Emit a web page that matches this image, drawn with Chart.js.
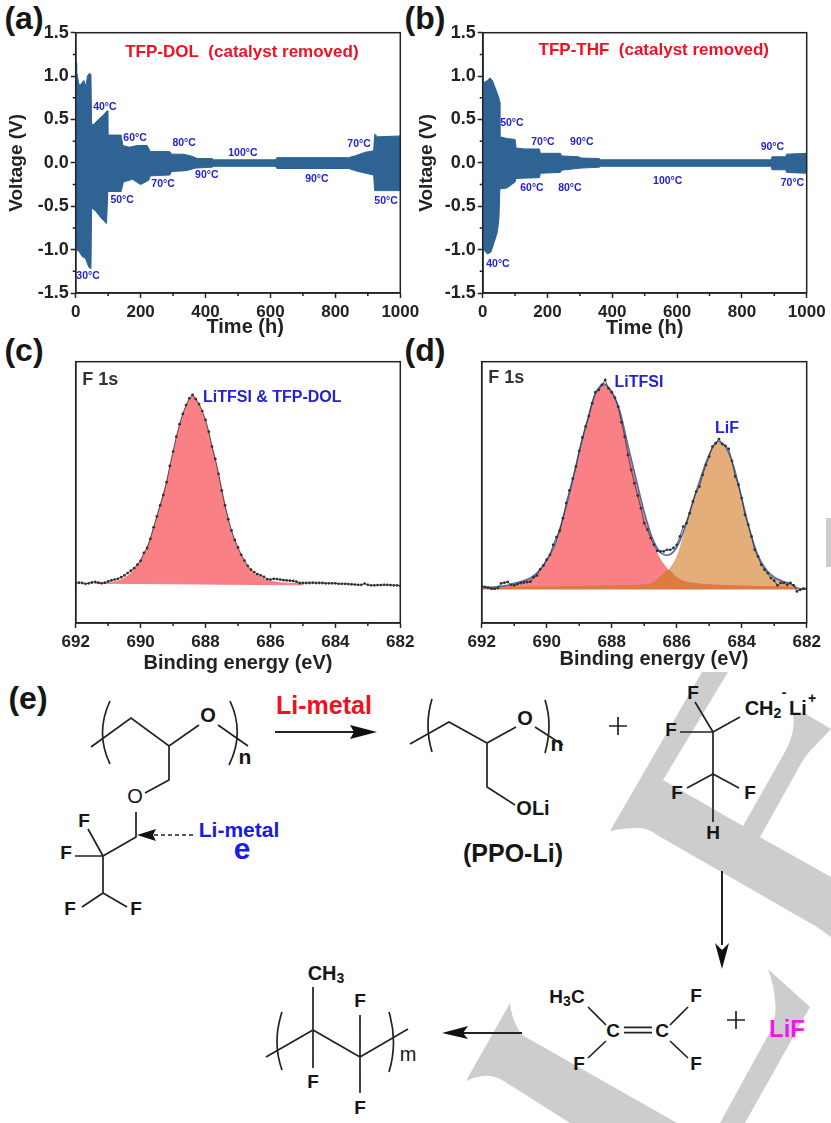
<!DOCTYPE html>
<html>
<head>
<meta charset="utf-8">
<title>Voltage profiles and F 1s spectra</title>
<script src="https://cdn.jsdelivr.net/npm/chart.js@4"></script>
<style>
    html, body { margin: 0; padding: 0; background: #fff; }
    #page { position: relative; width: 831px; height: 1123px; overflow: hidden; }
    #page svg, #page canvas { position: absolute; }
    #scheme text { font-family: "Liberation Sans", Arial, sans-serif; font-weight: bold; fill: #161616; text-anchor: middle; dominant-baseline: central; }
    #scheme .bond { fill: none; stroke: #222; stroke-width: 1.7; }
    #scheme .head { fill: #111; stroke: none; }
    #scheme .mark { fill: #cdcdcd; stroke: none; }
</style>
</head>
<body>
<div id="page">
<svg id="scheme" width="831" height="1123" viewBox="0 0 831 1123">
    <!-- grey watermark behind the scheme -->
    <path class="mark" d="M702 672 L728 672 L663 780 L743 826 L786 750 Q796 730 793 715 Q800 712 806 714 L831 729 L814 747 Q808 752 802 762 L760 837 L831 877 L831 937 L817 927 L657 835 Q648 828 640 828 Q622 828 610 831 Z"/>
    <path class="mark" d="M510 1003 Q512 1022 522 1035 L677 1123 L570 1123 L502 1080 Q492 1075 483 1076 Q474 1077 466 1081 Z"/>
    <path class="mark" d="M768 969 L810 1007 L745 1123 L720 1123 L771 1030 Q777 1015 775 1000 Q774 985 768 969 Z"/>
    <rect class="mark" x="826" y="518" width="5" height="49"/>

    <text x="24" y="18" font-size="32">(a)</text>
    <text x="425" y="18" font-size="32">(b)</text>
    <text x="24" y="350" font-size="32">(c)</text>
    <text x="425" y="350" font-size="32">(d)</text>
    <text x="28" y="698" font-size="32">(e)</text>

    <!-- fluorinated polyether -->
    <path class="bond" d="M91 747 L131 718 L169 746 L199 725 M218 725 L248 746 M110 701 Q95 733 110 764 M230 701 Q245 733 229 765
        M169 746 L169 780 L145 793 M136 812 L136 837 L103 856 L88 829 M103 856 L75 856 M103 856 L103 893 L82 907 M103 893 L127 907"/>
    <text x="208" y="715" font-size="20">O</text>
    <text x="245" y="756" font-size="21">n</text>
    <text x="135" y="796" font-size="20" style="font-weight:normal">O</text>
    <text x="84" y="820" font-size="19">F</text>
    <text x="66" y="852" font-size="19">F</text>
    <text x="70" y="908" font-size="19">F</text>
    <text x="136" y="908" font-size="19">F</text>
    <path class="bond" stroke-dasharray="4 3" d="M193 835 L150 835"/>
    <path class="head" d="M137 835 L156 829 L153 835 L156 841 Z"/>
    <text x="239" y="829" font-size="21" style="fill:#1a1ae0">Li-metal</text>
    <text x="242" y="848" font-size="30" style="fill:#1a1ae0">e</text>

    <text x="324" y="705" font-size="25" style="fill:#f01020">Li-metal</text>
    <path class="bond" style="stroke-width:2" d="M275 732 L360 732"/>
    <path class="head" d="M377 732 L350 725 L354 732 L350 739 Z"/>

    <!-- PPO-Li -->
    <path class="bond" d="M410 744 L449 722 L487 743 L516 727 M535 727 L563 745 M432 699 Q424 725 432 752 M545 700 Q553 725 545 753 M487 743 L487 787 L515 805"/>
    <text x="525" y="718" font-size="20">O</text>
    <text x="557" y="743" font-size="21">n</text>
    <text x="533" y="808" font-size="20">OLi</text>
    <text x="513" y="853" font-size="25">(PPO-Li)</text>
    <path class="bond" d="M609 726 L627 726 M618 717 L618 735"/>

    <!-- fluorinated carbanion -->
    <path class="bond" d="M695 702 L713 732 M680 732 L713 732 M713 732 L740 717 M713 732 L713 822 M713 774 L687 788 M713 774 L739 788"/>
    <text x="693" y="692" font-size="19">F</text>
    <text x="671" y="729" font-size="19">F</text>
    <text x="677" y="792" font-size="19">F</text>
    <text x="750" y="792" font-size="19">F</text>
    <text x="713" y="832" font-size="19">H</text>
    <text x="763" y="708" font-size="20">CH<tspan dy="5" font-size="14">2</tspan></text>
    <text x="784" y="692" font-size="14">-</text>
    <text x="798" y="708" font-size="20">Li</text>
    <text x="812" y="698" font-size="14">+</text>

    <path class="bond" style="stroke-width:2" d="M722 871 L722 945"/>
    <path class="head" d="M722 969 L715 943 L722 950 L729 943 Z"/>

    <!-- trifluoropropene + LiF -->
    <path class="bond" d="M588 1007 L606 1025 M588 1058 L606 1041 M670 1025 L688 1007 M670 1041 L688 1058 M624 1027.3 L652 1027.3 M624 1032.7 L652 1032.7"/>
    <text x="567" y="996" font-size="19">H<tspan dy="5" font-size="14">3</tspan><tspan dy="-5">C</tspan></text>
    <text x="613" y="1030" font-size="19">C</text>
    <text x="662" y="1030" font-size="19">C</text>
    <text x="579" y="1063" font-size="19">F</text>
    <text x="696" y="995" font-size="19">F</text>
    <text x="696" y="1063" font-size="19">F</text>
    <path class="bond" d="M727 1020 L745 1020 M736 1011 L736 1029"/>
    <text x="787" y="1028" font-size="24" style="fill:#f018e8">LiF</text>
    <path class="bond" style="stroke-width:2" d="M522 1033 L462 1033"/>
    <path class="head" d="M442 1033 L468 1026 L463 1033 L468 1039 Z"/>

    <!-- resulting polymer -->
    <path class="bond" d="M266 1057 L313 1030 L360 1057 L408 1029 M313 987 L313 1068 M360 1015 L360 1093 M282 1012 Q272 1042 282 1070 M389 1012 Q398 1042 389 1072"/>
    <text x="326" y="973" font-size="20">CH<tspan dy="5" font-size="14">3</tspan></text>
    <text x="313" y="1081" font-size="19">F</text>
    <text x="360" y="1000" font-size="19">F</text>
    <text x="360" y="1107" font-size="19">F</text>
    <text x="408" y="1054" font-size="20" style="font-weight:normal">m</text>
</svg>
<canvas id="chartA" style="left:0;top:0" width="430" height="340"></canvas>
<canvas id="chartB" style="left:415px;top:0" width="416" height="340"></canvas>
<canvas id="chartC" style="left:0;top:335px" width="430" height="340"></canvas>
<canvas id="chartD" style="left:415px;top:335px" width="416" height="340"></canvas>
</div>
<script>
// ============================================
// Data
// ============================================
// (a) TFP-DOL voltage envelope
const timeUpperA = [0, 1, 3, 10, 15, 25, 32, 36, 42, 47, 49, 55, 70, 85, 97, 99, 140, 145, 165, 190, 220, 230, 290, 295, 330, 355, 375, 420, 425, 615, 620, 840, 860, 890, 918, 921, 930, 1000];
const voltUpperA = [1.32, 1.15, 1.05, 0.9, 0.9, 0.95, 0.88, 1.0, 1.03, 1.02, 0.45, 0.44, 0.5, 0.55, 0.6, 0.32, 0.32, 0.2, 0.18, 0.2, 0.2, 0.13, 0.13, 0.1, 0.1, 0.08, 0.05, 0.05, 0.035, 0.035, 0.06, 0.06, 0.08, 0.12, 0.14, 0.33, 0.3, 0.31];
const timeLowerA = [0, 10, 20, 30, 40, 47, 49, 60, 75, 95, 99, 140, 147, 175, 200, 225, 230, 290, 295, 340, 370, 420, 425, 615, 620, 840, 870, 918, 921, 1000];
const voltLowerA = [-1.0, -1.02, -1.08, -1.1, -1.2, -1.22, -0.52, -0.55, -0.62, -0.7, -0.33, -0.33, -0.22, -0.19, -0.25, -0.2, -0.15, -0.14, -0.1, -0.09, -0.06, -0.05, -0.04, -0.04, -0.065, -0.065, -0.1, -0.14, -0.32, -0.32];

// (b) TFP-THF voltage envelope
const timeUpperB = [0, 1, 2, 15, 22, 30, 40, 50, 52, 53, 75, 100, 103, 130, 175, 178, 240, 243, 295, 305, 360, 363, 890, 893, 935, 938, 1000];
const voltUpperB = [1.5, 1.5, 0.92, 0.95, 0.98, 0.95, 0.85, 0.75, 0.7, 0.3, 0.28, 0.27, 0.17, 0.16, 0.16, 0.11, 0.11, 0.08, 0.07, 0.055, 0.05, 0.035, 0.035, 0.07, 0.07, 0.1, 0.11];
const timeLowerB = [0, 1, 2, 15, 25, 35, 45, 50, 53, 75, 100, 103, 175, 178, 240, 243, 305, 360, 363, 890, 893, 935, 938, 1000];
const voltLowerB = [-1.5, -1.5, -1.0, -1.05, -1.03, -0.92, -0.8, -0.65, -0.3, -0.29, -0.22, -0.18, -0.17, -0.12, -0.11, -0.085, -0.06, -0.05, -0.04, -0.04, -0.08, -0.08, -0.11, -0.12];

// temperature labels, placed in axis units
const tempTextA = ['40°C', '60°C', '80°C', '100°C', '70°C', '30°C', '50°C', '70°C', '90°C', '90°C', '50°C'];
const tempTimeA = [90, 183, 334, 515, 873, 38, 143, 269, 404, 743, 956];
const tempVoltA = [0.645, 0.29, 0.233, 0.107, 0.22, -1.3, -0.43, -0.25, -0.145, -0.19, -0.44];
const tempTextB = ['50°C', '70°C', '90°C', '90°C', '40°C', '60°C', '80°C', '100°C', '70°C'];
const tempTimeB = [90, 186, 306, 894, 47, 152, 269, 571, 956];
const tempVoltB = [0.46, 0.244, 0.244, 0.187, -1.165, -0.294, -0.294, -0.214, -0.237];

// (c) F 1s, TFP-DOL: measured points every 0.1 eV from 692 down to 682
const measuredC = [15.3, 15.4, 15.3, 15.0, 15.2, 15.5, 15.7, 15.4, 15.2, 15.4, 15.9, 16.3, 16.6, 16.9, 17.5, 18.2, 19.1, 20.0, 21.0, 22.3, 23.8,
    26.8, 28.7, 32.2, 36.6, 40.8, 45.0, 49.0, 53.9, 60.1, 65.6, 71.3, 76.1, 80.0, 83.4, 86.0, 87.3, 85.7, 83.8, 81.1, 77.7,
    73.2, 67.5, 62.8, 57.1, 50.7, 45.0, 39.7, 35.4, 31.8, 28.9, 26.1, 23.9, 21.9, 20.4, 19.5, 18.7, 18.2, 17.6, 16.8, 16.6,
    16.9, 16.8, 16.6, 16.4, 16.3, 16.2, 16.1, 15.8, 15.3, 15.3, 15.3, 15.3, 15.4, 15.3, 15.3, 15.3, 15.2, 15.2, 15.2, 15.2,
    15.0, 15.0, 15.0, 14.9, 14.8, 14.7, 14.6, 14.6, 15.1, 14.6, 14.4, 14.4, 14.5, 14.5, 14.6, 14.6, 14.5, 14.4, 14.4, 14.2];
const energyC = [691.4, 691, 690.8, 690.6, 690.4, 690.2, 690, 689.8, 689.6, 689.4, 689.2, 689, 688.8, 688.6, 688.4, 688.2, 688, 687.8, 687.6, 687.4, 687.2, 687, 686.8, 686.6, 686.4, 686.2, 686, 685.8, 685.6, 685.4, 685];
const fitC = [15.25, 15.3, 15.7, 16.5, 18, 20.5, 24, 29, 36.5, 45, 54, 65, 75.5, 83, 87, 83.5, 77, 67.5, 57, 45, 35, 28.5, 23.5, 20, 18, 16.8, 16, 15.6, 15.3, 15.2, 15.1];
const baseC = [15.25, 15.2, 15.19, 15.17, 15.15, 15.13, 15.11, 15.09, 15.07, 15.05, 15.03, 15.01, 14.99, 14.97, 14.95, 14.93, 14.91, 14.89, 14.87, 14.85, 14.83, 14.81, 14.79, 14.77, 14.75, 14.73, 14.71, 14.69, 14.67, 14.65, 14.6];

// (d) F 1s, cycled: fits every 0.25 eV, measured points every 0.1 eV
const energyD = [692, 691.75, 691.5, 691.25, 691, 690.75, 690.5, 690.25, 690, 689.75, 689.5, 689.25, 689, 688.75, 688.5, 688.25, 688, 687.75, 687.5, 687.25, 687, 686.75, 686.5, 686.25, 686, 685.75, 685.5, 685.25, 685, 684.75, 684.5, 684.25, 684, 683.75, 683.5, 683.25, 683, 682.75, 682.5, 682.25, 682];
const litfsiD = [13.6, 13.7, 13.9, 14.3, 15.2, 16, 17.2, 19.8, 24, 30, 40.1, 52, 65.5, 77.5, 87.9, 91.5, 88.5, 81, 68, 55, 42.5, 32, 24.5, 20.4, 17.5, 16, 15.4, 15, 14.8, 14.6, 14.5, 14.4, 14.3, 14.3, 14.2, 14.2, 14.1, 14.1, 14, 13.2, 13.2];
const lifD = [13.6, 13.7, 13.8, 13.9, 14, 14, 14, 14.1, 14.1, 14.1, 14.2, 14.2, 14.2, 14.3, 14.3, 14.4, 14.4, 14.5, 14.5, 14.6, 14.8, 15.5, 18, 20.4, 25.5, 36, 46.5, 56, 64.5, 69.5, 67.5, 60, 47.8, 35.5, 25.8, 20.5, 17.5, 16, 15, 13.2, 13.2];
const overlapD = [13.6, 13.7, 13.8, 13.9, 14, 14, 14, 14.1, 14.1, 14.1, 14.2, 14.2, 14.2, 14.3, 14.3, 14.4, 14.4, 14.5, 14.5, 14.6, 14.8, 15.5, 18, 20.4, 17.5, 16, 15.4, 15, 14.8, 14.6, 14.5, 14.4, 14.3, 14.3, 14.2, 14.2, 14.1, 14.1, 14, 13.2, 13.2];
const totalD = [13.6, 13.7, 13.9, 14.3, 15.2, 16, 17.2, 19.8, 24, 30, 40.1, 52, 65.5, 77.5, 87.9, 91.5, 88.5, 81, 68, 55, 42.5, 32.5, 27, 26, 29, 36.5, 46.5, 56, 64.5, 69.5, 67.5, 60, 47.8, 35.5, 25.8, 20.5, 17.5, 16, 15, 13.2, 13.2];
const baseD = [13, 13, 13, 13, 13, 13, 13, 13, 13, 13, 13, 13, 13, 13, 13, 13, 13, 13, 13, 13, 13, 13, 13, 13, 13, 13, 13, 13, 13, 13, 13, 13, 13, 13, 13, 13, 13, 13, 13, 13, 13];
const measuredD = [14.0, 13.8, 13.5, 13.1, 13.1, 13.4, 15.2, 15.4, 15.7, 14.6, 14.4, 14.9, 15.3, 15.5, 15.7, 15.8, 17.5, 18.2, 20.5, 22.0, 24.2,
    26.1, 29.9, 32.9, 35.3, 40.1, 45.9, 50.7, 55.2, 59.9, 65.9, 71.0, 75.2, 79.2, 84.1, 88.3, 89.2, 91.1, 93.0, 89.8, 88.3,
    86.2, 82.8, 76.8, 71.3, 64.3, 58.6, 53.5, 48.8, 43.9, 38.2, 35.7, 32.5, 29.9, 27.6, 27.4, 27.4, 28.0, 28.0, 28.7, 29.9,
    33.1, 36.9, 38.2, 42.0, 46.5, 50.3, 52.2, 56.7, 60.5, 63.7, 67.5, 68.8, 70.4, 68.5, 67.8, 66.6, 62.0, 56.1, 52.9, 47.8,
    41.4, 37.6, 33.1, 28.0, 25.5, 22.3, 20.4, 19.1, 17.2, 16.2, 14.4, 15.3, 15.3, 14.6, 15.3, 14.4, 12.1, 12.7, 13.1, 13.0];

// axis ticks
const minorTime = [100, 300, 500, 700, 900];
const minorVolt = [-1.25, -0.75, -0.25, 0.25, 0.75, 1.25];
const minorEnergy = [691, 689, 687, 685, 683];

// ============================================
// Helpers
// ============================================
const FONT = '"Liberation Sans", Arial, sans-serif';
const INK = '#222';
const BLUE = '#2323d2';
const RED = '#f01020';

function xy(xs, ys) {
    return xs.map((x, i) => ({ x: x, y: ys[i] }));
}

// energy of every measured point: 692.0, 691.9 ... 682.0
function measuredEnergy(values) {
    return values.map((v, i) => (6920 - i) / 10);
}

// plot frame, short minor ticks and free text in axis units
function panelPlugin(groups, minorXs, minorYs) {
    return {
        id: 'panelExtras',
        afterDraw(chart) {
            const ctx = chart.ctx;
            const area = chart.chartArea;
            const xScale = chart.scales.x;
            const yScale = chart.scales.y;
            ctx.save();
            ctx.strokeStyle = INK;
            ctx.lineWidth = 1.5;
            ctx.strokeRect(area.left, area.top, area.right - area.left, area.bottom - area.top);
            ctx.beginPath();
            minorXs.forEach(v => {
                const px = xScale.getPixelForValue(v);
                ctx.moveTo(px, area.bottom);
                ctx.lineTo(px, area.bottom + 3);
            });
            minorYs.forEach(v => {
                const py = yScale.getPixelForValue(v);
                ctx.moveTo(area.left, py);
                ctx.lineTo(area.left - 3, py);
            });
            ctx.stroke();
            groups.forEach(g => {
                ctx.fillStyle = g.color;
                ctx.font = 'bold ' + g.size + 'px ' + FONT;
                ctx.textAlign = g.align || 'center';
                ctx.textBaseline = 'middle';
                g.text.forEach((t, i) => {
                    ctx.fillText(t, xScale.getPixelForValue(g.x[i]), yScale.getPixelForValue(g.y[i]));
                });
            });
            ctx.restore();
        }
    };
}

function fixedSize(prop, value) {
    return function(scale) {
        scale[prop] = value;
        scale.paddingLeft = 0;
        scale.paddingRight = 0;
        scale.paddingTop = 0;
        scale.paddingBottom = 0;
    };
}

function commonOptions(cfg) {
    return {
        responsive: false,
        animation: false,
        devicePixelRatio: 1,
        layout: { padding: { left: 0, top: cfg.top, right: cfg.right, bottom: 0 } },
        elements: { point: { radius: 0 }, line: { tension: 0 } },
        plugins: { legend: { display: false }, tooltip: { enabled: false } },
        scales: {
            x: {
                type: 'linear',
                min: cfg.xMin,
                max: cfg.xMax,
                reverse: cfg.reverse,
                afterFit: fixedSize('height', cfg.axisHeight),
                grid: { drawOnChartArea: false, tickLength: 5, tickColor: INK, tickWidth: 1.5 },
                border: { color: INK, width: 1.5 },
                ticks: { stepSize: cfg.xStep, color: INK, padding: 4, maxRotation: 0, autoSkip: false, font: { family: FONT, size: 17, weight: 'bold' }, callback: v => String(v) },
                title: { display: !!cfg.xTitle, text: cfg.xTitle, color: INK, padding: { top: cfg.xTitlePad, bottom: 0 }, font: { family: FONT, size: 20, weight: 'bold' } }
            },
            y: {
                type: 'linear',
                min: cfg.yMin,
                max: cfg.yMax,
                afterFit: fixedSize('width', cfg.axisWidth),
                grid: { drawOnChartArea: false, drawTicks: cfg.yTicks, tickLength: 5, tickColor: INK, tickWidth: 1.5 },
                border: { color: INK, width: 1.5 },
                ticks: { display: cfg.yTicks, stepSize: cfg.yStep, color: INK, padding: 2, autoSkip: false, font: { family: FONT, size: 18, weight: 'bold' }, callback: v => v.toFixed(1) },
                title: { display: cfg.yTicks, text: 'Voltage (V)', color: INK, padding: { top: cfg.yTitlePad, bottom: 0 }, font: { family: FONT, size: 19, weight: 'bold' } }
            }
        }
    };
}

// ============================================
// Voltage panels
// ============================================
function voltagePanel(id, upper, lower, axisWidth, rightPad, yTitlePad, xTitle, groups) {
    new Chart(document.getElementById(id), {
        type: 'line',
        data: {
            datasets: [
                { data: upper, borderColor: '#2e6394', borderWidth: 1, backgroundColor: '#2e6394', fill: { target: 1 } },
                { data: lower, borderColor: '#2e6394', borderWidth: 1, backgroundColor: '#2e6394', fill: false }
            ]
        },
        options: commonOptions({
            top: 32.7, right: rightPad, axisHeight: 47, axisWidth: axisWidth, yTitlePad: yTitlePad, xTitlePad: 0,
            xMin: 0, xMax: 1000, xStep: 200, xTitle: xTitle,
            yMin: -1.5, yMax: 1.5, yStep: 0.5, yTicks: true
        }),
        plugins: [panelPlugin(groups, minorTime, minorVolt)]
    });
}

// the x title of (a) sits off-centre in the figure, so it is drawn with the free text
voltagePanel('chartA', xy(timeUpperA, voltUpperA), xy(timeLowerA, voltLowerA), 75.7, 29.7, 5.6, '', [
    { text: ['TFP-DOL  (catalyst removed)'], x: [512], y: [1.275], color: RED, size: 17 },
    { text: tempTextA, x: tempTimeA, y: tempVoltA, color: BLUE, size: 10.5 },
    { text: ['Time (h)'], x: [522], y: [-1.9], color: INK, size: 20 }
]);

voltagePanel('chartB', xy(timeUpperB, voltUpperB), xy(timeLowerB, voltLowerB), 67.7, 24.3, 0.6, 'Time (h)', [
    { text: ['TFP-THF  (catalyst removed)'], x: [528], y: [1.3], color: RED, size: 17 },
    { text: tempTextB, x: tempTimeB, y: tempVoltB, color: BLUE, size: 10.5 }
]);

// ============================================
// XPS panels
// ============================================
const pointStyle = { borderColor: '#333', borderWidth: 0.8, pointRadius: 1.4, pointBackgroundColor: '#333', pointBorderWidth: 0, fill: false };

new Chart(document.getElementById('chartC'), {
    type: 'line',
    data: {
        datasets: [
            Object.assign({ data: xy(measuredEnergy(measuredC), measuredC) }, pointStyle),
            { data: xy(energyC, fitC), borderColor: '#f57a7e', borderWidth: 1, tension: 0.3, backgroundColor: '#f98084', fill: { target: 2 } },
            { data: xy(energyC, baseC), borderColor: '#f57a7e', borderWidth: 1, fill: false }
        ]
    },
    options: commonOptions({
        top: 26.7, right: 29.7, axisHeight: 52, axisWidth: 75.7, xTitlePad: 4,
        xMin: 682, xMax: 692, reverse: true, xStep: 2, xTitle: 'Binding energy (eV)',
        yMin: 0, yMax: 100, yTicks: false
    }),
    plugins: [panelPlugin([
        { text: ['F 1s'], x: [691.8], y: [92.9], color: '#333', size: 18, align: 'left' },
        { text: ['LiTFSI & TFP-DOL'], x: [688.08], y: [86.4], color: BLUE, size: 16, align: 'left' }
    ], minorEnergy, [])]
});

new Chart(document.getElementById('chartD'), {
    type: 'line',
    data: {
        datasets: [
            Object.assign({ data: xy(measuredEnergy(measuredD), measuredD) }, pointStyle),
            { data: xy(energyD, totalD), borderColor: '#4f6ea8', borderWidth: 1.6, tension: 0.3, fill: false },
            { data: xy(energyD, overlapD), borderWidth: 0, tension: 0.3, backgroundColor: '#de7b42', fill: { target: 5 } },
            { data: xy(energyD, litfsiD), borderWidth: 0, tension: 0.3, backgroundColor: '#f98084', fill: { target: 5 } },
            { data: xy(energyD, lifD), borderWidth: 0, tension: 0.3, backgroundColor: '#e3ae7a', fill: { target: 5 } },
            { data: xy(energyD, baseD), borderColor: '#de7b42', borderWidth: 1, fill: false }
        ]
    },
    options: commonOptions({
        top: 26.7, right: 24.3, axisHeight: 52, axisWidth: 66.7, xTitlePad: 4,
        xMin: 682, xMax: 692, reverse: true, xStep: 2, xTitle: '',
        yMin: 0, yMax: 100, yTicks: false
    }),
    plugins: [panelPlugin([
        { text: ['F 1s'], x: [691.8], y: [93.6], color: '#333', size: 18, align: 'left' },
        { text: ['LiTFSI'], x: [687.16], y: [92], color: BLUE, size: 16 },
        { text: ['LiF'], x: [684.45], y: [74.5], color: BLUE, size: 16 },
        { text: ['Binding energy (eV)'], x: [686.7], y: [-13.8], color: INK, size: 20 }
    ], minorEnergy, [])]
});
</script>
</body>
</html>
